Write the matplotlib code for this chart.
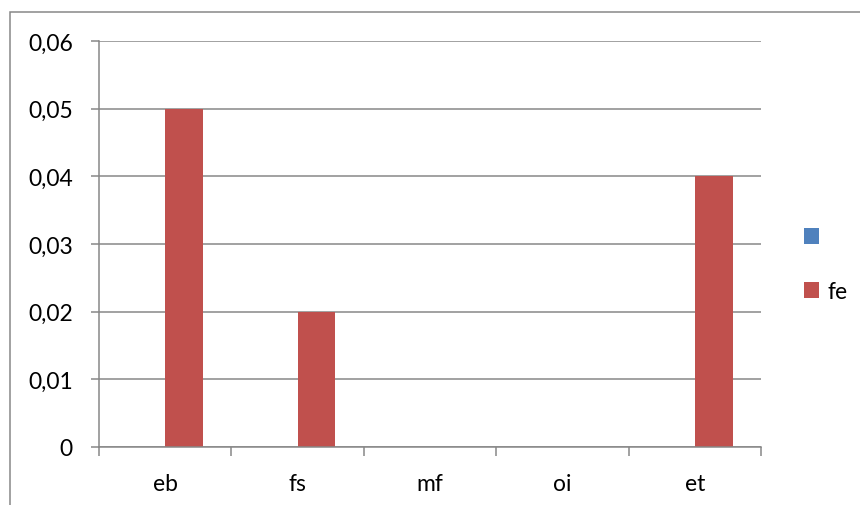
import matplotlib
matplotlib.use("Agg")
import matplotlib.pyplot as plt
from matplotlib.patches import Rectangle, Patch
from matplotlib.ticker import FixedLocator, FuncFormatter

categories = ["eb", "fs", "mf", "oi", "et"]
series_blank = [0, 0, 0, 0, 0]
series_fe = [0.05, 0.02, 0, 0, 0.04]
y_ticks = [0, 0.01, 0.02, 0.03, 0.04, 0.05, 0.06]

BLUE = "#4F81BD"
RED = "#C0504D"
GRAY = "#878787"

plt.rcParams["font.family"] = ["Lato", "DejaVu Sans"]
FS = 16.5

W, H = 860, 506
fig = plt.figure(figsize=(W / 100, H / 100), dpi=100)

# outer chart frame
fig.patches.append(Rectangle((10 / W, -0.1), 1.2, 1.1 - 12.5 / H, transform=fig.transFigure,
                             fill=False, edgecolor=GRAY, linewidth=1.1))

ax = fig.add_axes([99 / W, 1 - 448 / H, (761 - 99) / W, (448 - 42) / H])

x = list(range(len(categories)))
bw = 1 / 3.5
ax.bar([i - bw for i in x], series_blank, width=bw, align="edge", color=BLUE, linewidth=0)
ax.bar(x, series_fe, width=bw, align="edge", color=RED, linewidth=0)

ax.set_xlim(-0.5, len(categories) - 0.5)
ax.set_ylim(0, 0.06)

ax.set_yticks(y_ticks)
ax.yaxis.set_major_formatter(FuncFormatter(lambda v, p: "0" if v == 0 else f"{v:.2f}".replace(".", ",")))
ax.yaxis.grid(True, color=GRAY, linewidth=1.1)
ax.set_axisbelow(True)

ax.xaxis.set_major_locator(FixedLocator([i - 0.5 for i in range(len(categories) + 1)]))
ax.xaxis.set_major_formatter(FuncFormatter(lambda v, p: ""))
ax.xaxis.set_minor_locator(FixedLocator(x))
ax.set_xticklabels(categories, minor=True)

ax.tick_params(axis="y", direction="out", length=5.8, width=1.1, color=GRAY, pad=13, labelsize=FS)
ax.tick_params(axis="x", which="major", direction="out", length=6.5, width=1.1, color=GRAY)
ax.tick_params(axis="x", which="minor", length=0, pad=19, labelsize=FS)

for s in ["top", "right"]:
    ax.spines[s].set_visible(False)
for s in ["left", "bottom"]:
    ax.spines[s].set_color(GRAY)
    ax.spines[s].set_linewidth(1.1)

handles = [Patch(facecolor=BLUE, edgecolor="none"), Patch(facecolor=RED, edgecolor="none")]
fig.legend(handles, ["", "fe"], loc="upper left", bbox_to_anchor=(804 / W, 1 - 228 / H),
           frameon=False, fontsize=FS, handlelength=0.66, handleheight=0.66,
           handletextpad=0.35, labelspacing=1.45, borderpad=0, borderaxespad=0)

fig.savefig("out.png", dpi=100)
